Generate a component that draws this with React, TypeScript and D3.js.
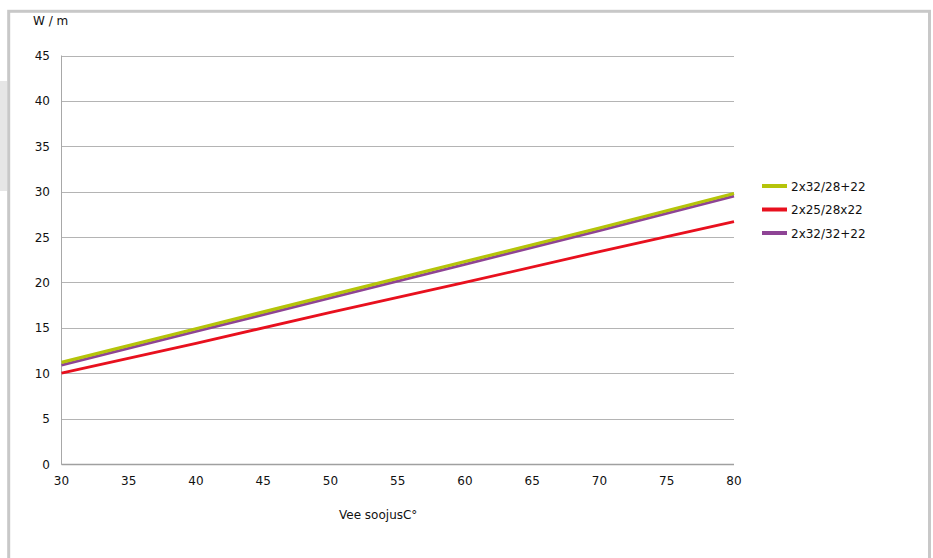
import React from "react";
import * as d3 from "d3";

const xValues = [30, 40, 50, 60, 70, 80];
const seriesNames = ["2x32/28+22", "2x25/28x22", "2x32/32+22"];
const seriesColors = ["#b5c40a", "#e8101e", "#8e4495"];
const green = [11.2, 14.9, 18.6, 22.3, 26.0, 29.8];
const red = [10.0, 13.3, 16.7, 20.0, 23.4, 26.7];
const purple = [10.9, 14.6, 18.3, 22.0, 25.7, 29.5];
const xTicks = [30, 35, 40, 45, 50, 55, 60, 65, 70, 75, 80];
const yTicks = [0, 5, 10, 15, 20, 25, 30, 35, 40, 45];
const yTitle = "W / m";
const xTitle = "Vee soojusC°";

export default function App() {
  const W = 933, H = 558;
  const x = d3.scaleLinear().domain([30, 80]).range([61.5, 734]);
  const y = d3.scaleLinear().domain([0, 45]).range([464, 55.5]);
  const line = d3.line<number>().x((_, i) => x(xValues[i])).y((d) => y(d));
  const series = [green, red, purple];
  const font = "'DejaVu Sans', Verdana, sans-serif";
  // draw order: red first, then purple, then green on top
  const order = [1, 2, 0];
  return (
    <svg width={W} height={H} style={{ position: "fixed", left: 0, top: 0, background: "#fff" }} fontFamily={font}>
      <rect x={0} y={81} width={7} height={110} fill="#e6e6e6" />
      <rect x={8.7} y={11.3} width={920.8} height={600} fill="#fff" stroke="#c8c8c8" strokeWidth={3} />
      {yTicks.map((t) => (
        <line key={t} x1={x(30)} x2={x(80)} y1={Math.round(y(t)) + 0.5} y2={Math.round(y(t)) + 0.5} stroke="#b4b4b4" strokeWidth={1} />
      ))}
      <line x1={61.5} x2={61.5} y1={y(45)} y2={y(0) + 0.5} stroke="#a8a8a8" strokeWidth={1} />
      <line x1={x(30)} x2={x(80)} y1={464.5} y2={464.5} stroke="#a0a0a0" strokeWidth={1.5} />
      {yTicks.map((t) => (
        <text key={t} x={50} y={y(t) + 4.5} textAnchor="end" fontSize={12} fill="#111">{t}</text>
      ))}
      {xTicks.map((t) => (
        <text key={t} x={x(t)} y={485} textAnchor="middle" fontSize={12} fill="#111">{t}</text>
      ))}
      <text x={33} y={25} fontSize={12} fill="#111">{yTitle}</text>
      <text x={339} y={519} fontSize={12} fill="#111">{xTitle}</text>
      {order.map((i) => (
        <path key={i} d={line(series[i]) || ""} fill="none" stroke={seriesColors[i]} strokeWidth={i === 0 ? 3.2 : 2.8} />
      ))}
      {seriesNames.map((n, i) => (
        <g key={n}>
          <line x1={762} x2={787} y1={186 + i * 23.5} y2={186 + i * 23.5} stroke={seriesColors[i]} strokeWidth={4} />
          <text x={791} y={190.5 + i * 23.5} fontSize={12} fill="#111">{n}</text>
        </g>
      ))}
    </svg>
  );
}
